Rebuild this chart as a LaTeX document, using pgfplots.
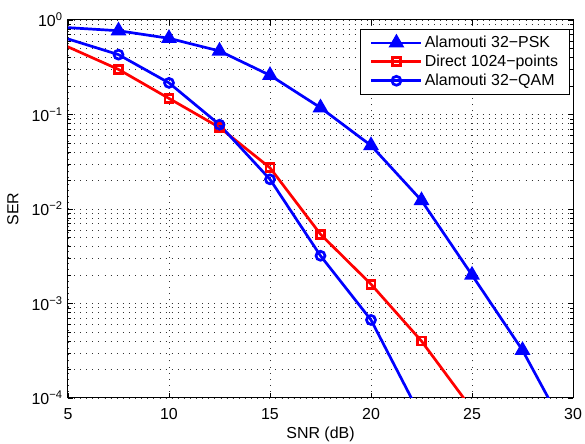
\documentclass[border=0pt]{standalone}
\usepackage{fontspec}
\setmainfont{Liberation Sans}
\usepackage{pgfplots}
\pgfplotsset{compat=1.18}

\begin{document}
\fontsize{16}{19}\selectfont
\begin{tikzpicture}[font=\fontsize{16}{19}\selectfont]
\begin{axis}[
  scale only axis, width=505bp, height=378bp,
  xmin=5, xmax=30, ymode=log, ymin=1e-4, ymax=1,
  xtick={5,10,...,30},
  ytick={1e-4,1e-3,1e-2,1e-1,1},
  yticklabels={10\textsuperscript{\char"2212 4},10\textsuperscript{\char"2212 3},10\textsuperscript{\char"2212 2},10\textsuperscript{\char"2212 1},10\textsuperscript{0}},
  /pgf/number format/assume math mode=true,
  every tick label/.append style={font=\fontsize{16}{19}\selectfont},
  every x tick label/.append style={anchor=base, yshift=-22bp},
  every axis x label/.style={at={(axis description cs:0.5,0)}, anchor=base, yshift=-41bp,
    font=\fontsize{16}{19}\selectfont},
  every axis y label/.style={at={(axis description cs:0,0.5)}, rotate=90, anchor=center,
    yshift=55bp, font=\fontsize{16}{19}\selectfont},
  grid=both,
  major grid style={black!80, dash pattern=on 0.9bp off 5.2bp, line width=0.7bp},
  minor grid style={black!80, dash pattern=on 0.9bp off 5.2bp, line width=0.7bp},
  tick align=inside,
  major tick length=5bp, minor tick length=3bp,
  tick style={black, line width=0.6bp},
  axis line style={black, line width=1bp},
  xlabel={SNR (dB)}, ylabel={SER},
  legend style={at={(0.994,0.976)}, anchor=north east, draw=black,
    line width=0.7bp, font=\fontsize{16}{19}\selectfont, row sep=0bp,
    inner xsep=9.5bp, inner ysep=4bp, nodes={inner ysep=2.5bp}},
  legend image code/.code={
    \draw[line width=2.7bp, mark repeat=2, mark phase=2]
      plot coordinates {(0bp,0bp) (25bp,0bp) (50bp,0bp)};},
  legend cell align=left,
  every axis plot/.append style={line width=2.7bp},
]
\addplot[blue, mark=triangle*, mark size=6.5bp, mark options={solid}] coordinates {
  (2.5,0.895)(7.5,0.77)(10,0.64)(12.5,0.47)(15,0.26)(17.5,0.118)
  (20,0.047)(22.5,0.0123)(25,0.0020)(27.5,3.2e-4)(30,3.3e-5)};
\addlegendentry{Alamouti 32\char"2212 PSK}
\addplot[red, mark=square, mark size=4bp, mark options={solid}] coordinates {
  (2.5,0.90)(7.5,0.30)(10,0.148)(12.5,0.073)(15,0.0273)(17.5,0.0054)
  (20,0.0016)(22.5,4.0e-4)(25,7.6e-5)};
\addlegendentry{Direct 1024\char"2212 points}
\addplot[blue, mark=o, mark size=4.5bp, mark options={solid}] coordinates {
  (2.5,0.923)(7.5,0.43)(10,0.216)(12.5,0.078)(15,0.0206)(17.5,0.0032)
  (20,6.7e-4)(22.5,6.2e-5)};
\addlegendentry{Alamouti 32\char"2212 QAM}
\end{axis}
\pgfresetboundingbox
\path ([xshift=-68bp,yshift=-46bp]current axis.south west)
  rectangle ([xshift=12bp,yshift=20bp]current axis.north east);
\end{tikzpicture}
\end{document}
